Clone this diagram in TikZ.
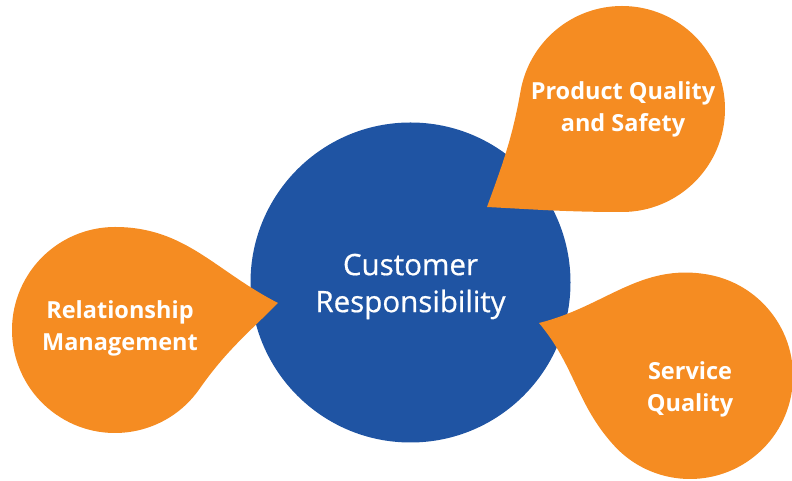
\documentclass[tikz,border=0pt]{standalone}
\usepackage{fontspec}
\setmainfont{Open Sans}
\newfontfamily\hubfont[FakeBold=0.6]{Open Sans}
\usetikzlibrary{calc}
\definecolor{crblue}{RGB}{31,84,163}
\definecolor{crorange}{RGB}{245,140,34}
\tikzset{
  drop/.style={fill=crorange, draw=none},
  droptext/.style={text=white, align=center, font=\fontsize{23.5}{32}\selectfont\bfseries},
  hubtext/.style={text=white, align=center, font=\hubfont\fontsize{29.5}{37}\selectfont}
}

\begin{document}
\begin{tikzpicture}[x=1pt, y=1pt]
			%%%%% START %%%%%
			\useasboundingbox (0, 0) rectangle (792, 481);
			
			% hub
			\fill[crblue] (410.5, 198.5) circle (160);
			\node[hubtext] (hub) at (410.5, 194.5) {Customer\\Responsibility};
			
			% top right drop
			\coordinate (cpq) at (622, 372);
			\coordinate (tpq) at (487, 274);
			\fill[drop] (tpq) to[out=-3, in=180] ($(cpq)+(270:103)$)
			  arc[start angle=270, end angle=530, radius=103]
			  to[out=260, in=70] (tpq) -- cycle;
			\node[droptext] (pq) at (623, 372) {Product Quality\\and Safety};
			
			% left drop
			\coordinate (crm) at (115, 151);
			\coordinate (trm) at (278, 178);
			\fill[drop] (trm) to[out=225, in=55] ($(crm)+(-35:103)$)
			  arc[start angle=-35, end angle=-270, radius=103]
			  to[out=0, in=153] (trm) -- cycle;
			\node[droptext] (rm) at (120, 153) {Relationship\\Management};
			
			% bottom right drop
			\coordinate (csq) at (690, 105);
			\coordinate (tsq) at (539, 158);
			\fill[drop] (tsq) to[out=-50, in=132] ($(csq)+(222:103)$)
			  arc[start angle=222, end angle=440, radius=103]
			  to[out=170, in=14] (tsq) -- cycle;
			\node[droptext] (sq) at (690, 92) {Service\\Quality};
			%%%%% END %%%%%
		\end{tikzpicture}
\end{document}
